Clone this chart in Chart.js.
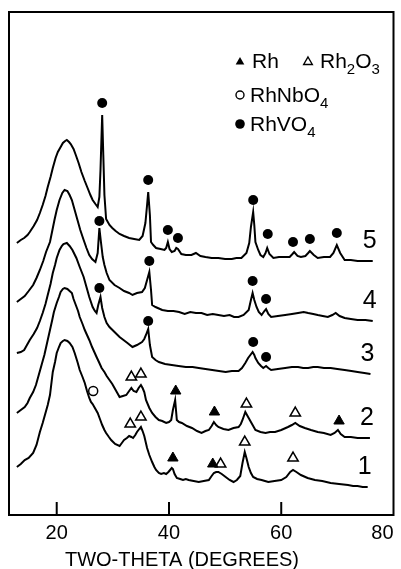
<!DOCTYPE html>
<html>
<head>
<meta charset="utf-8">
<script src="https://cdn.jsdelivr.net/npm/chart.js@4.4.0/dist/chart.umd.min.js"></script>
<style>
  html, body { margin: 0; padding: 0; background: #fff; }
  #wrap { width: 401px; height: 569px; position: relative; }
</style>
</head>
<body>
<div id="wrap"><canvas id="xrd"></canvas></div>
<script>
// XRD patterns, [two-theta, intensity] (curves are stacked)
const trace1 = [
  [12.9,48],[13.6,51],[14.3,55],[15.0,57],[15.8,62],[16.4,70],[17.0,83],[17.5,92],[17.9,100],[18.4,110],
  [18.8,120],[19.3,143],[19.7,153],[20.0,162],[20.4,168],[20.7,172],[21.1,174],[21.4,175],[21.9,174],[22.3,172],
  [22.8,168],[23.2,162],[23.7,153],[24.1,145],[24.6,138],[25.0,132],[25.4,124],[25.8,117],[26.1,113],[26.4,111],
  [26.9,106],[27.3,102],[27.7,96],[28.1,90],[28.5,85],[28.8,82],[29.3,78],[29.7,75],[30.4,71],[31.2,69],
  [31.6,72],[32.0,75],[32.5,77],[32.9,79],[33.3,78],[33.6,77],[34.0,80],[34.3,83],[34.7,86],[35.0,88],
  [35.3,84],[35.6,79],[36.1,67],[36.5,60],[37.0,53],[37.4,48],[37.7,45],[38.2,42],[38.6,41],[39.1,42],
  [39.5,41],[39.9,43],[40.2,45],[40.5,47],[40.7,46],[41.0,41],[41.4,37],[42.0,36],[42.5,35],[43.0,36],
  [43.5,35],[44.4,34],[45.3,33],[46.2,34],[47.1,35],[47.6,39],[48.0,42],[48.4,43],[48.8,43],[49.4,41],
  [50.1,38],[50.8,35],[51.5,33],[52.1,35],[52.7,39],[53.1,52],[53.5,63],[53.8,57],[54.2,48],[54.6,42],
  [55.0,38],[55.7,36],[56.5,35],[57.1,34],[57.7,33],[58.8,34],[60.0,35],[60.9,38],[61.6,43],[62.1,45],
  [62.7,43],[63.5,40],[64.7,37],[66.0,35],[67.3,34],[68.8,32],[70.3,31],[71.9,30],[72.8,29],[73.6,29],
  [74.5,28],[75.4,28]
];
const trace2 = [
  [12.9,102],[13.6,105],[14.3,108],[14.8,112],[15.2,117],[15.8,123],[16.3,130],[16.8,140],[17.3,150],[17.8,160],
  [18.2,170],[18.8,185],[19.2,195],[19.5,203],[20.0,212],[20.4,218],[20.7,223],[21.1,226],[21.4,227],[21.9,226],
  [22.3,224],[22.7,222],[23.0,216],[23.4,210],[23.8,204],[24.1,198],[24.6,191],[25.0,185],[25.4,180],[25.8,175],
  [26.3,168],[26.7,163],[27.1,158],[27.6,152],[28.0,147],[28.5,143],[28.9,139],[29.4,135],[29.9,131],[30.3,127],
  [30.8,122],[31.2,118],[31.8,119],[32.4,120],[32.9,124],[33.3,127],[33.7,124],[34.2,123],[34.6,127],[35.0,130],
  [35.3,127],[35.6,123],[35.9,115],[36.5,107],[37.0,102],[37.6,98],[38.2,95],[38.8,94],[39.5,92],[40.0,93],
  [40.4,95],[40.7,105],[41.1,115],[41.4,95],[41.8,93],[42.3,92],[43.2,89],[44.1,87],[45.0,84],[45.8,82],
  [46.5,84],[47.1,85],[47.6,89],[48.0,93],[48.4,90],[48.8,88],[49.7,86],[50.6,85],[51.5,87],[52.4,88],
  [52.8,91],[53.1,95],[53.6,103],[53.9,100],[54.2,97],[54.7,92],[55.4,85],[56.3,83],[57.2,82],[58.0,83],
  [58.9,83],[60.0,85],[61.2,88],[61.9,90],[62.5,92],[63.3,89],[64.2,87],[65.3,85],[66.5,83],[67.6,82],
  [68.8,80],[69.5,82],[70.1,85],[70.6,81],[71.3,78],[72.4,78],[73.6,77],[74.7,77],[75.8,77]
];
const trace3 = [
  [12.9,162],[13.6,163],[14.2,165],[14.7,170],[15.2,175],[15.9,181],[16.5,187],[17.0,194],[17.5,202],[18.0,211],
  [18.4,220],[18.9,231],[19.3,242],[19.7,250],[20.0,257],[20.5,265],[20.9,269],[21.2,271],[21.8,272],[22.3,269],
  [22.8,265],[23.5,257],[24.1,248],[24.8,238],[25.3,228],[25.8,218],[26.4,208],[26.8,204],[27.1,202],[27.4,210],
  [27.8,218],[28.1,207],[28.5,198],[28.9,192],[29.4,188],[30.3,183],[31.2,178],[31.9,175],[32.6,172],[33.5,168],
  [34.3,170],[35.2,173],[35.6,176],[35.9,180],[36.3,186],[36.6,170],[37.0,158],[37.6,155],[38.2,153],[39.3,151],
  [40.5,150],[41.7,149],[43.0,148],[44.2,148],[45.3,147],[46.5,146],[47.7,145],[48.9,144],[50.1,143],[51.2,144],
  [52.4,144],[53.0,147],[53.6,152],[54.1,157],[54.5,160],[54.9,163],[55.2,160],[55.4,157],[55.9,152],[56.4,149],
  [56.8,147],[57.3,149],[57.7,147],[58.2,145],[59.4,146],[60.7,147],[61.9,148],[63.0,148],[63.9,147],[64.8,147],
  [65.7,148],[66.5,148],[67.6,147],[68.8,147],[70.0,146],[71.3,145],[72.5,144],[73.6,143],[74.8,142],[75.9,141]
];
const trace4 = [
  [12.9,213],[13.6,216],[14.3,219],[15.0,224],[15.8,230],[16.4,237],[17.0,245],[17.6,254],[18.1,263],[18.8,273],
  [19.2,284],[19.6,295],[20.0,305],[20.5,315],[21.0,322],[21.4,325],[21.9,324],[22.3,320],[22.7,315],[23.2,305],
  [23.7,295],[24.2,285],[24.8,275],[25.3,267],[25.8,260],[26.3,256],[26.9,253],[27.3,262],[27.6,287],[27.9,272],
  [28.2,258],[28.5,250],[28.9,242],[29.4,235],[30.3,230],[31.2,227],[32.0,224],[32.9,222],[33.5,220],[34.3,222],
  [35.2,223],[35.7,227],[36.1,235],[36.5,243],[36.8,225],[37.0,210],[37.6,208],[38.8,205],[39.8,204],[40.8,204],
  [41.8,203],[42.8,201],[43.8,203],[44.8,202],[45.8,202],[46.8,200],[47.8,201],[48.8,200],[49.8,199],[50.8,200],
  [51.6,198],[52.4,198],[53.3,200],[54.2,205],[54.6,215],[54.9,222],[55.2,215],[55.6,208],[56.0,203],[56.5,200],
  [57.0,204],[57.3,206],[57.7,201],[58.2,198],[59.4,199],[60.7,200],[61.9,201],[63.0,202],[64.0,203],[64.8,202],
  [65.7,201],[66.5,200],[67.4,199],[68.3,198],[69.1,200],[69.7,202],[70.4,199],[71.3,197],[72.4,196],[73.6,195],
  [75.0,195],[76.3,194]
];
const trace5 = [
  [12.9,272],[13.6,275],[14.2,277],[14.8,280],[15.2,283],[15.9,289],[16.5,295],[17.0,302],[17.5,310],[18.0,319],
  [18.4,328],[18.9,338],[19.3,347],[19.8,357],[20.2,363],[20.7,368],[21.1,372],[21.5,374],[21.8,375],[22.2,373],
  [22.5,371],[23.0,366],[23.4,360],[23.9,352],[24.4,343],[25.0,334],[25.5,327],[26.0,320],[26.4,315],[26.9,311],
  [27.3,308],[27.6,318],[27.8,345],[28.1,400],[28.3,360],[28.5,320],[28.8,296],[29.4,290],[29.9,287],[30.5,284],
  [31.2,281],[32.0,279],[32.9,277],[33.8,276],[34.7,275],[35.3,279],[35.8,292],[36.1,310],[36.3,323],[36.6,300],
  [36.8,273],[37.2,270],[37.7,267],[38.5,266],[39.2,265],[39.5,267],[39.8,273],[40.1,266],[40.5,263],[41.0,264],
  [41.3,267],[41.6,266],[42.2,261],[43.0,260],[44.0,260],[44.8,262],[45.6,259],[46.5,258],[47.6,257],[48.8,257],
  [50.0,256],[51.2,256],[52.0,257],[52.9,257],[53.8,262],[54.3,272],[54.6,288],[55.0,303],[55.2,290],[55.4,273],
  [55.9,265],[56.3,260],[56.8,258],[57.2,262],[57.5,267],[57.9,261],[58.6,257],[59.6,258],[60.7,258],[61.5,258],
  [62.0,261],[62.3,263],[62.9,259],[63.5,258],[64.3,259],[64.8,262],[65.1,264],[65.8,260],[66.5,257],[67.6,258],
  [68.7,258],[69.3,262],[69.9,270],[70.5,262],[71.3,255],[72.4,255],[73.6,254],[74.8,254],[75.9,254],[76.3,254]
];

// phase markers placed above the reflections
const rhVO4Peaks = [
  [28.1,412],[36.3,335],[39.8,285],[41.6,277],[55.0,315],[57.6,281],[62.1,273],[65.1,276],[69.9,282],
  [27.6,294],[36.5,254],[54.9,234],[57.3,216],
  [27.6,227],[36.3,194],[55.0,173],[57.3,158]
];
const rhPeaks = [[41.2,124],[48.1,103],[70.3,94],[40.7,57],[47.8,51]];
const rh2O3Peaks = [[33.3,138],[35.0,141],[53.8,111],[62.5,102],[33.1,91],[35.0,98],[49.2,51],[53.5,73],[62.1,57]];
const rhNbO4Peaks = [[26.5,124]];

const traceLabels = ['1', '2', '3', '4', '5'];
const xTickValues = [20, 40, 60, 80];
const xTitle = 'TWO-THETA (DEGREES)';
const legendItems = ['Rh', 'Rh2O3', 'RhNbO4', 'RhVO4'];

const FONT = "'Liberation Sans', Arial, sans-serif";
const traces = [trace1, trace2, trace3, trace4, trace5];

function toXY(pairs) {
  return pairs.map((p) => ({ x: p[0], y: p[1] }));
}

// Build datasets: the five curves, then the marker sets
const datasets = traces.map((t) => ({
  data: toXY(t),
  showLine: true,
  borderColor: '#000',
  borderWidth: 2,
  pointRadius: 0,
  tension: 0,
  fill: false,
}));
datasets.push({ data: toXY(rhVO4Peaks), pointStyle: 'circle', pointRadius: 5, backgroundColor: '#000', borderWidth: 0 });
datasets.push({ data: toXY(rhPeaks), pointStyle: 'triangle', pointRadius: 6, backgroundColor: '#000', borderColor: '#000', borderWidth: 1 });
datasets.push({ data: toXY(rh2O3Peaks), pointStyle: 'triangle', pointRadius: 6, backgroundColor: '#fff', borderColor: '#000', borderWidth: 1.5 });
datasets.push({ data: toXY(rhNbO4Peaks), pointStyle: 'circle', pointRadius: 4.5, backgroundColor: '#fff', borderColor: '#000', borderWidth: 1.5 });

// marker shapes for the legend box
function drawMarker(ctx, kind, x, y) {
  ctx.beginPath();
  if (kind === 'tri' || kind === 'openTri') {
    const r = 5;
    ctx.moveTo(x, y - r);
    ctx.lineTo(x + r * 0.866, y + r * 0.5);
    ctx.lineTo(x - r * 0.866, y + r * 0.5);
    ctx.closePath();
  } else {
    ctx.arc(x, y, kind === 'dot' ? 4.8 : 4, 0, Math.PI * 2);
  }
  if (kind === 'tri' || kind === 'dot') {
    ctx.fillStyle = '#000';
    ctx.fill();
  } else {
    ctx.fillStyle = '#fff';
    ctx.fill();
    ctx.lineWidth = 1.4;
    ctx.stroke();
  }
}

// chemical formula with the digits written as subscripts
function drawFormula(ctx, text, x, baseline) {
  for (const ch of text) {
    const sub = /[0-9]/.test(ch);
    ctx.font = (sub ? '15px ' : '21px ') + FONT;
    ctx.fillStyle = '#000';
    ctx.fillText(ch, x, sub ? baseline + 6 : baseline);
    x += ctx.measureText(ch).width;
  }
}

const decorations = {
  id: 'decorations',
  afterDraw(chart) {
    const { ctx, chartArea: a, scales: { x, y } } = chart;
    ctx.save();
    ctx.strokeStyle = '#000';
    ctx.lineWidth = 2;
    ctx.strokeRect(a.left, a.top, a.right - a.left, a.bottom - a.top);

    // inward tick marks on the bottom axis
    xTickValues.filter((v) => v < 80).forEach((v) => {
      const px = x.getPixelForValue(v);
      ctx.beginPath();
      ctx.moveTo(px, a.bottom);
      ctx.lineTo(px, a.bottom - 13);
      ctx.stroke();
    });

    // curve numbers, just above the right end of each curve
    ctx.fillStyle = '#000';
    ctx.font = '25px ' + FONT;
    ctx.textAlign = 'center';
    ctx.textBaseline = 'middle';
    traces.forEach((t, i) => {
      const last = t[t.length - 1];
      ctx.fillText(traceLabels[i], x.getPixelForValue(last[0]) - 3, y.getPixelForValue(last[1]) - 20);
    });

    // axis title
    ctx.font = '20px ' + FONT;
    ctx.fillText(xTitle, 182, 560);

    // legend
    ctx.textAlign = 'left';
    ctx.textBaseline = 'alphabetic';
    drawMarker(ctx, 'tri', 240, 62);
    drawFormula(ctx, legendItems[0], 252, 68);
    drawMarker(ctx, 'openTri', 308, 62);
    drawFormula(ctx, legendItems[1], 320, 68);
    drawMarker(ctx, 'openCircle', 240, 95);
    drawFormula(ctx, legendItems[2], 250, 102);
    drawMarker(ctx, 'dot', 240, 124);
    drawFormula(ctx, legendItems[3], 250, 131);
    ctx.restore();
  },
};

new Chart(document.getElementById('xrd'), {
  type: 'scatter',
  data: { datasets: datasets },
  options: {
    responsive: true,
    maintainAspectRatio: false,
    animation: false,
    layout: { padding: { left: 9, right: 5, top: 12, bottom: 0 } },
    plugins: { legend: { display: false }, tooltip: { enabled: false } },
    scales: {
      x: {
        type: 'linear',
        min: 11.5,
        max: 80,
        afterBuildTicks: (scale) => {
          scale.ticks = [11.5].concat(xTickValues).map((v) => ({ value: v }));
        },
        afterFit: (scale) => {
          scale.height = 54;
          scale.paddingLeft = 0;
          scale.paddingRight = 0;
        },
        grid: { display: false },
        border: { display: false },
        ticks: {
          autoSkip: false,
          maxRotation: 0,
          align: 'inner',
          padding: -2,
          color: '#000',
          font: { family: FONT, size: 20 },
          callback: (v) => (xTickValues.includes(v) ? String(v) : ''),
        },
      },
      y: {
        display: false,
        min: 0,
        max: 503,
      },
    },
  },
  plugins: [decorations],
});
</script>
</body>
</html>
